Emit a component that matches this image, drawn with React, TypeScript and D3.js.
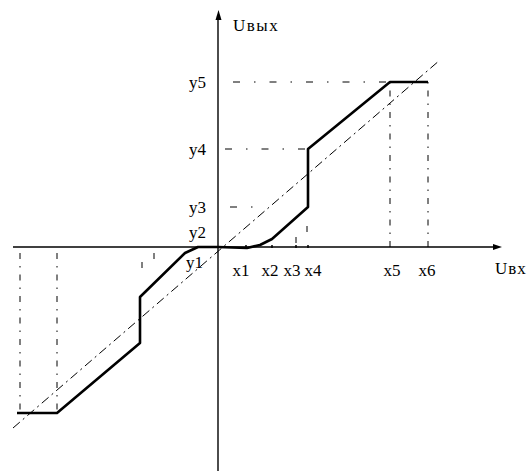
import React from "react";
import * as d3 from "d3";

// Transfer characteristic Uвых = f(Uвх): units are arbitrary input/output levels
const xTickNames = ["x1", "x2", "x3", "x4", "x5", "x6"];
const xTickValues = [2.8, 5.4, 7.8, 9.0, 17.2, 21.0];
const xLabelValues = [2.3, 5.2, 7.4, 9.5, 17.4, 20.9];

const yTickNames = ["y1", "y2", "y3", "y4", "y5"];
const yLabelValues = [-1.5, 1.5, 4.0, 9.8, 16.5];

// Positive branch of the characteristic
const posX = [0, 2.9, 4.2, 5.4, 9.0, 9.0, 17.2, 21.0];
const posY = [0, -0.1, 0.2, 0.8, 4.0, 9.8, 16.5, 16.5];

// Negative branch of the characteristic
const negX = [0, -2.0, -3.3, -7.8, -7.8, -16.1, -20.1];
const negY = [0, 0, -0.6, -5.0, -9.6, -16.6, -16.6];

// Ideal linear characteristic (dash-dot)
const idealX = [-20.5, 22.2];
const idealY = [-18.1, 18.7];

// Horizontal guide lines: level, x from, x to
const hGuideLevel = [16.5, 9.8, 4.0];
const hGuideFrom = [1.5, 0.7, 1.2];
const hGuideTo = [21.0, 9.0, 4.5];

// Vertical guide lines: x, y from, y to
const vGuideX = [17.2, 21.0, -19.8, -16.1, 7.8, 8.9, -7.6, -6.4];
const vGuideFrom = [0, 0, -0.6, -0.6, 0.4, 1.5, -1.5, -0.6];
const vGuideTo = [16.5, 16.5, -16.6, -16.6, 1.2, 2.4, -2.1, -1.3];

const W = 527;
const H = 471;

export default function App() {
  const x = d3.scaleLinear().domain([-20.5, 28.2]).range([13, 500]);
  const y = d3.scaleLinear().domain([-22.4, 23.7]).range([471, 10]);

  const line = d3
    .line<[number, number]>()
    .x((d) => x(d[0]))
    .y((d) => y(d[1]));

  const pos = line(posX.map((v, i) => [v, posY[i]] as [number, number]));
  const neg = line(negX.map((v, i) => [v, negY[i]] as [number, number]));
  const ideal = line(idealX.map((v, i) => [v, idealY[i]] as [number, number]));

  const x0 = x(0);
  const y0 = y(0);
  const font = "'Liberation Serif', 'Times New Roman', serif";

  return (
    <svg
      width={W}
      height={H}
      style={{ position: "absolute", left: 0, top: 0, background: "#fff" }}
    >
      {/* axes */}
      <line x1={x(-20.5)} y1={y0} x2={x(28.2) - 6} y2={y0} stroke="#000" strokeWidth={1.4} />
      <path d={`M${x(28.2) + 2},${y0} l-9,-3 l0,6 z`} fill="#000" />
      <line x1={x0} y1={H} x2={x0} y2={y(23.7) + 8} stroke="#000" strokeWidth={1.4} />
      <path d={`M${x0 + 0.5},${y(23.7)} l-3,10 l6,0 z`} fill="#000" />

      {/* guide lines */}
      {hGuideLevel.map((lv, i) => (
        <line
          key={"h" + i}
          x1={x(hGuideFrom[i])}
          x2={x(hGuideTo[i])}
          y1={y(lv)}
          y2={y(lv)}
          stroke="#000"
          strokeWidth={1}
          strokeDasharray="7,14,1.5,14"
        />
      ))}
      {vGuideX.map((vx, i) => (
        <line
          key={"v" + i}
          x1={x(vx)}
          x2={x(vx)}
          y1={y(vGuideFrom[i])}
          y2={y(vGuideTo[i])}
          stroke="#000"
          strokeWidth={1}
          strokeDasharray="6,7,1.5,7"
        />
      ))}

      {/* ideal characteristic */}
      <path d={ideal ?? ""} fill="none" stroke="#000" strokeWidth={1} strokeDasharray="9,4,2,4" />

      {/* real characteristic */}
      <path d={pos ?? ""} fill="none" stroke="#000" strokeWidth={2.6} strokeLinejoin="round" />
      <path d={neg ?? ""} fill="none" stroke="#000" strokeWidth={2.6} strokeLinejoin="round" />

      {/* tick marks on the x axis */}
      {xTickValues.slice(0, 4).map((v, i) => (
        <line key={"t" + i} x1={x(v)} x2={x(v)} y1={y0 - 2} y2={y0 + 1} stroke="#000" strokeWidth={1.5} />
      ))}

      {/* labels */}
      <g fontFamily={font} fontSize={17} fill="#000">
        {xTickNames.map((n, i) => (
          <text key={n} x={x(xLabelValues[i])} y={270} textAnchor="middle" dominantBaseline="central">
            {n}
          </text>
        ))}
        {yTickNames.map((n, i) => (
          <text
            key={n}
            x={i === 0 ? 203 : 206}
            y={y(yLabelValues[i])}
            textAnchor="end"
            dominantBaseline="central"
          >
            {n}
          </text>
        ))}
        <text x={233} y={25} dominantBaseline="central" letterSpacing={1.5}>
          Uвых
        </text>
        <text x={495} y={268} dominantBaseline="central" letterSpacing={1}>
          Uвх
        </text>
      </g>
    </svg>
  );
}
